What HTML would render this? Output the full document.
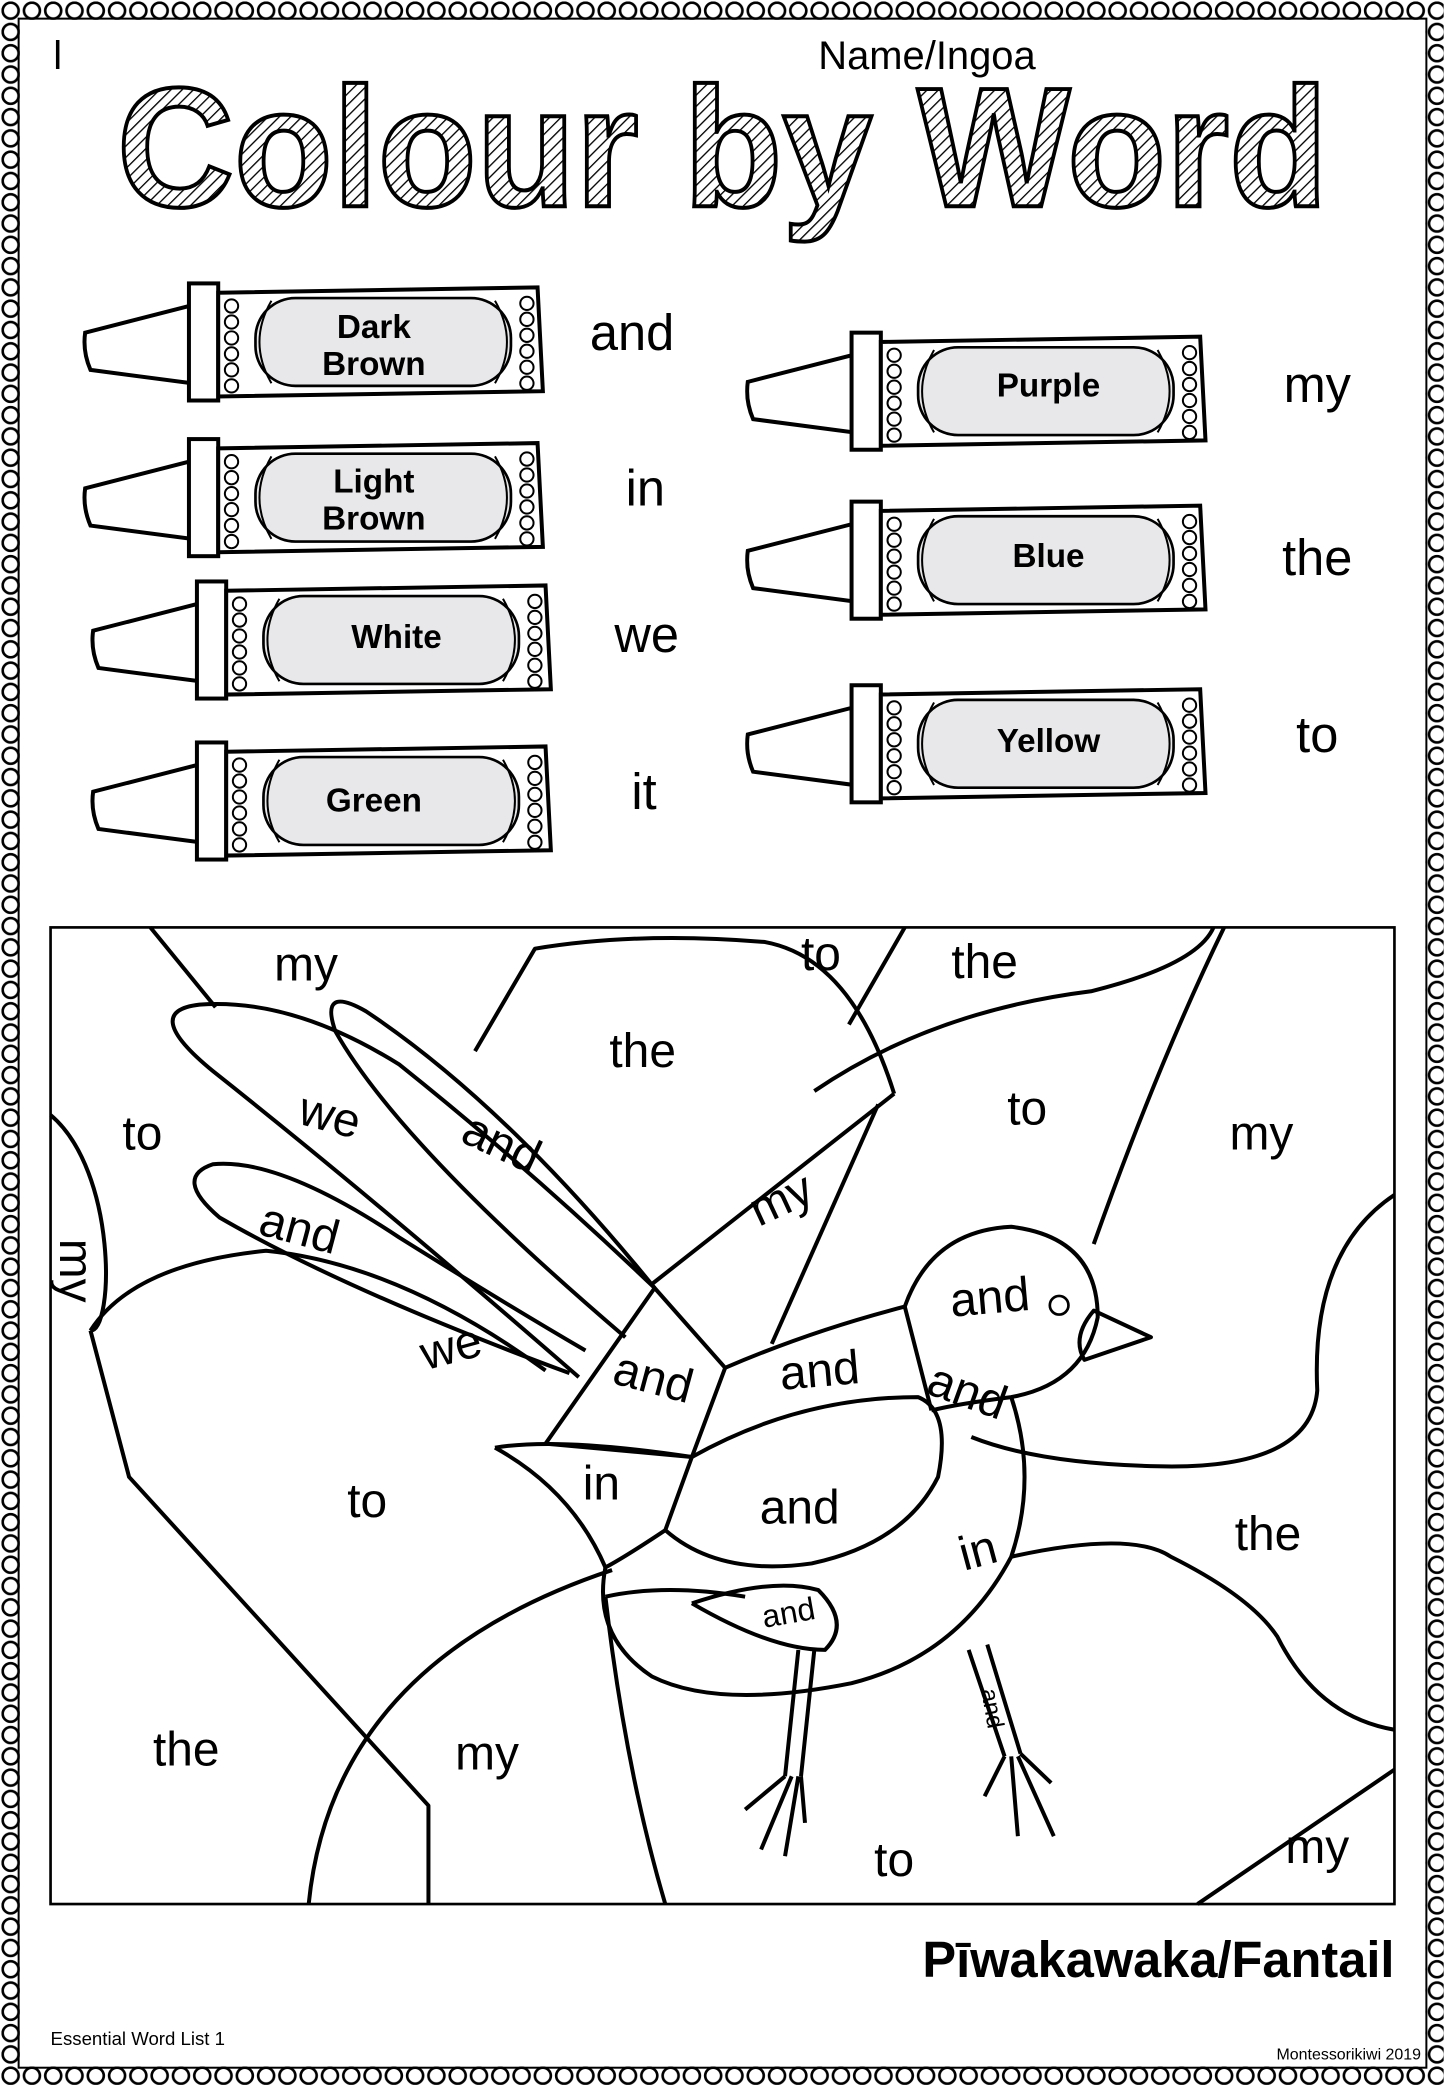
<!DOCTYPE html>
<html><head><meta charset="utf-8"><style>
html,body{margin:0;padding:0;background:#fff}
svg{display:block}
text{font-family:"Liberation Sans",sans-serif}
</style></head><body>
<svg width="1445" height="2087" viewBox="0 0 1086 1568.5" xmlns="http://www.w3.org/2000/svg">
<defs>
<pattern id="h" width="6" height="6" patternUnits="userSpaceOnUse" patternTransform="rotate(45)">
<rect width="6" height="6" fill="#fff"/><line x1="0" y1="0" x2="0" y2="6" stroke="#000" stroke-width="2"/></pattern>
<pattern id="sc" width="16" height="16" patternUnits="userSpaceOnUse"><circle cx="8" cy="8" r="6" fill="#fff" stroke="#000" stroke-width="2"/></pattern>
<symbol id="cr" viewBox="0 0 350 95" width="350" height="95">
<path d="M2,42 L80,22 L82,80 L6,70 Q0,56 2,42Z" fill="#fff" stroke="#000" stroke-width="3"/>
<rect x="80" y="5" width="22" height="88" fill="#fff" stroke="#000" stroke-width="3"/>
<path d="M102,12 L342,8 L346,86 L102,90Z" fill="#fff" stroke="#000" stroke-width="3"/>
<g fill="#fff" stroke="#000" stroke-width="1.5">
<circle cx="112" cy="22" r="5"/><circle cx="112" cy="34" r="5"/><circle cx="112" cy="46" r="5"/><circle cx="112" cy="58" r="5"/><circle cx="112" cy="70" r="5"/><circle cx="112" cy="82" r="5"/>
<circle cx="334" cy="20" r="5"/><circle cx="334" cy="32" r="5"/><circle cx="334" cy="44" r="5"/><circle cx="334" cy="56" r="5"/><circle cx="334" cy="68" r="5"/><circle cx="334" cy="80" r="5"/></g>
<rect x="130" y="16" width="192" height="66" rx="30" fill="#e8e8ea" stroke="#000" stroke-width="2"/>
<path d="M142,18 Q124,49 142,80 M310,18 Q328,49 310,80" fill="none" stroke="#000" stroke-width="1.5"/>
</symbol>
</defs>
<rect width="1086" height="1568.5" fill="#fff"/>
<rect x="8" y="8" width="1070" height="1552" fill="none" stroke="url(#sc)" stroke-width="14"/>
<rect x="14" y="14" width="1058" height="1540" fill="none" stroke="#000" stroke-width="1.5"/>
<text x="40" y="52" font-size="30">l</text>
<text x="615" y="52" font-size="30">Name/Ingoa</text>
<text x="543" y="155" text-anchor="middle" font-size="128" font-weight="bold" fill="url(#h)" stroke="#000" stroke-width="3" textLength="910" lengthAdjust="spacingAndGlyphs">Colour by Word</text>

<g font-weight="bold" font-size="25" text-anchor="middle">
<use href="#cr" x="62" y="208"/><text x="281" y="254">Dark</text><text x="281" y="282">Brown</text>
<use href="#cr" x="62" y="325"/><text x="281" y="370">Light</text><text x="281" y="398">Brown</text>
<use href="#cr" x="68" y="432"/><text x="298" y="487">White</text>
<use href="#cr" x="68" y="553"/><text x="281" y="610">Green</text>
<use href="#cr" x="560" y="245"/><text x="788" y="298">Purple</text>
<use href="#cr" x="560" y="372"/><text x="788" y="426">Blue</text>
<use href="#cr" x="560" y="510"/><text x="788" y="565">Yellow</text>
</g>
<g font-size="38" text-anchor="middle">
<text x="475" y="263">and</text><text x="485" y="380">in</text><text x="486" y="490">we</text><text x="484" y="608">it</text>
<text x="990" y="302">my</text><text x="990" y="432">the</text><text x="990" y="565">to</text>
</g>

<rect x="38" y="697" width="1010" height="734" fill="none" stroke="#000" stroke-width="2"/>
<g fill="none" stroke="#000" stroke-width="3" stroke-linejoin="round">
<path d="M113,697 L162,757"/>
<path d="M357,790 L402,713 Q480,700 575,708 Q640,720 672,822"/>
<path d="M680,697 L638,770"/>
<path d="M672,822 L490,965"/>
<path d="M612,820 Q700,760 820,745 Q900,725 912,697"/>
<path d="M920,697 Q870,800 822,935"/>
<path d="M580,1010 L660,830"/>
<path d="M1048,898 Q985,940 990,1045 Q985,1105 870,1102 Q780,1100 730,1080"/>
<path d="M760,1170 Q850,1150 880,1170 Q940,1200 960,1230 Q990,1290 1048,1300"/>
<path d="M1048,1330 L900,1431"/>
<path d="M38,838 C88,880 86,1000 68,1000"/>
<path d="M68,1000 Q100,950 200,940 Q300,950 410,1030"/>
<path d="M68,1000 L97,1110 L322,1357 L322,1431"/>
<path d="M232,1431 Q250,1250 460,1180"/>
<path d="M455,1200 Q470,1330 500,1431"/>
<path d="M630,1250 L900,1431" stroke="none"/>
<!-- feathers -->
<path d="M435,1035 Q280,900 160,805 Q105,760 150,755 Q220,750 300,800 Q400,880 492,968"/>
<path d="M492,968 Q380,830 275,760 Q240,740 252,775 Q300,860 470,1005"/>
<path d="M428,1032 Q260,970 165,915 Q130,885 160,875 Q210,870 300,930 Q380,980 440,1015"/>
<!-- tail block -->
<path d="M492,968 L545,1028 L520,1095 L410,1085 Z"/>
<path d="M545,1028 Q610,1000 680,982 L700,1060"/>
<!-- head -->
<path d="M680,982 Q700,925 760,922 Q825,930 825,990 Q815,1040 760,1050 Q720,1055 700,1060"/>
<path d="M822,985 L865,1005 L815,1022 Q805,1005 822,985Z"/>
<circle cx="796" cy="981" r="7" stroke-width="2"/>
<!-- tail feather -->
<path d="M372,1088 Q420,1080 520,1095 L500,1150 Q470,1170 455,1178 Q430,1120 372,1088"/>
<!-- wing -->
<path d="M520,1095 Q600,1050 690,1050 Q715,1060 705,1110 Q680,1160 610,1175 Q540,1185 500,1150"/>
<!-- body -->
<path d="M455,1178 Q445,1230 490,1260 Q540,1285 640,1265 Q720,1245 760,1170 Q780,1110 760,1050"/>
<path d="M455,1200 Q500,1190 560,1200"/>
<path d="M520,1205 Q580,1185 615,1195 Q640,1220 620,1240 Q580,1240 520,1205"/>
<!-- legs -->
<path d="M600,1240 L590,1335 M612,1240 L602,1335"/>
<path d="M590,1335 L560,1360 M595,1335 L572,1390 M600,1335 L590,1395 M602,1335 L605,1370"/>
<path d="M728,1240 L755,1320 M742,1236 L767,1318"/>
<path d="M755,1320 L740,1350 M760,1320 L765,1380 M765,1320 L792,1380 M767,1318 L790,1340"/>
</g>
<g font-size="36" text-anchor="middle">
<text x="230" y="737">my</text><text x="617" y="729">to</text><text x="740" y="735">the</text>
<text x="483" y="802">the</text><text x="107" y="864">to</text>
<text transform="translate(245,850) rotate(15)">we</text>
<text transform="translate(372,870) rotate(25)">and</text>
<text x="772" y="845">to</text><text x="948" y="864">my</text>
<text transform="translate(592,912) rotate(-25)">my</text>
<text transform="translate(222,935) rotate(15)">and</text>
<text transform="translate(45,955) rotate(90)">my</text>
<text transform="translate(745,987) rotate(-5)">and</text>
<text transform="translate(342,1024) rotate(-15)">we</text>
<text transform="translate(488,1047) rotate(15)">and</text>
<text transform="translate(617,1042) rotate(-5)">and</text>
<text transform="translate(723,1057) rotate(20)">and</text>
<text x="276" y="1140">to</text><text x="452" y="1127">in</text><text x="601" y="1145">and</text>
<text transform="translate(738,1177) rotate(-15)">in</text>
<text x="953" y="1165">the</text>
<text transform="translate(594,1220) rotate(-10)" font-size="24">and</text>
<text x="140" y="1327">the</text><text x="366" y="1330">my</text>
<text transform="translate(740,1285) rotate(80)" font-size="18">and</text>
<text x="672" y="1410">to</text><text x="990" y="1400">my</text>
</g>
<text x="1048" y="1486" text-anchor="end" font-size="38" font-weight="bold">Pīwakawaka/Fantail</text>
<text x="38" y="1537" font-size="14">Essential Word List 1</text>
<text x="1068" y="1548" text-anchor="end" font-size="12">Montessorikiwi 2019</text>
</svg>
</body></html>
